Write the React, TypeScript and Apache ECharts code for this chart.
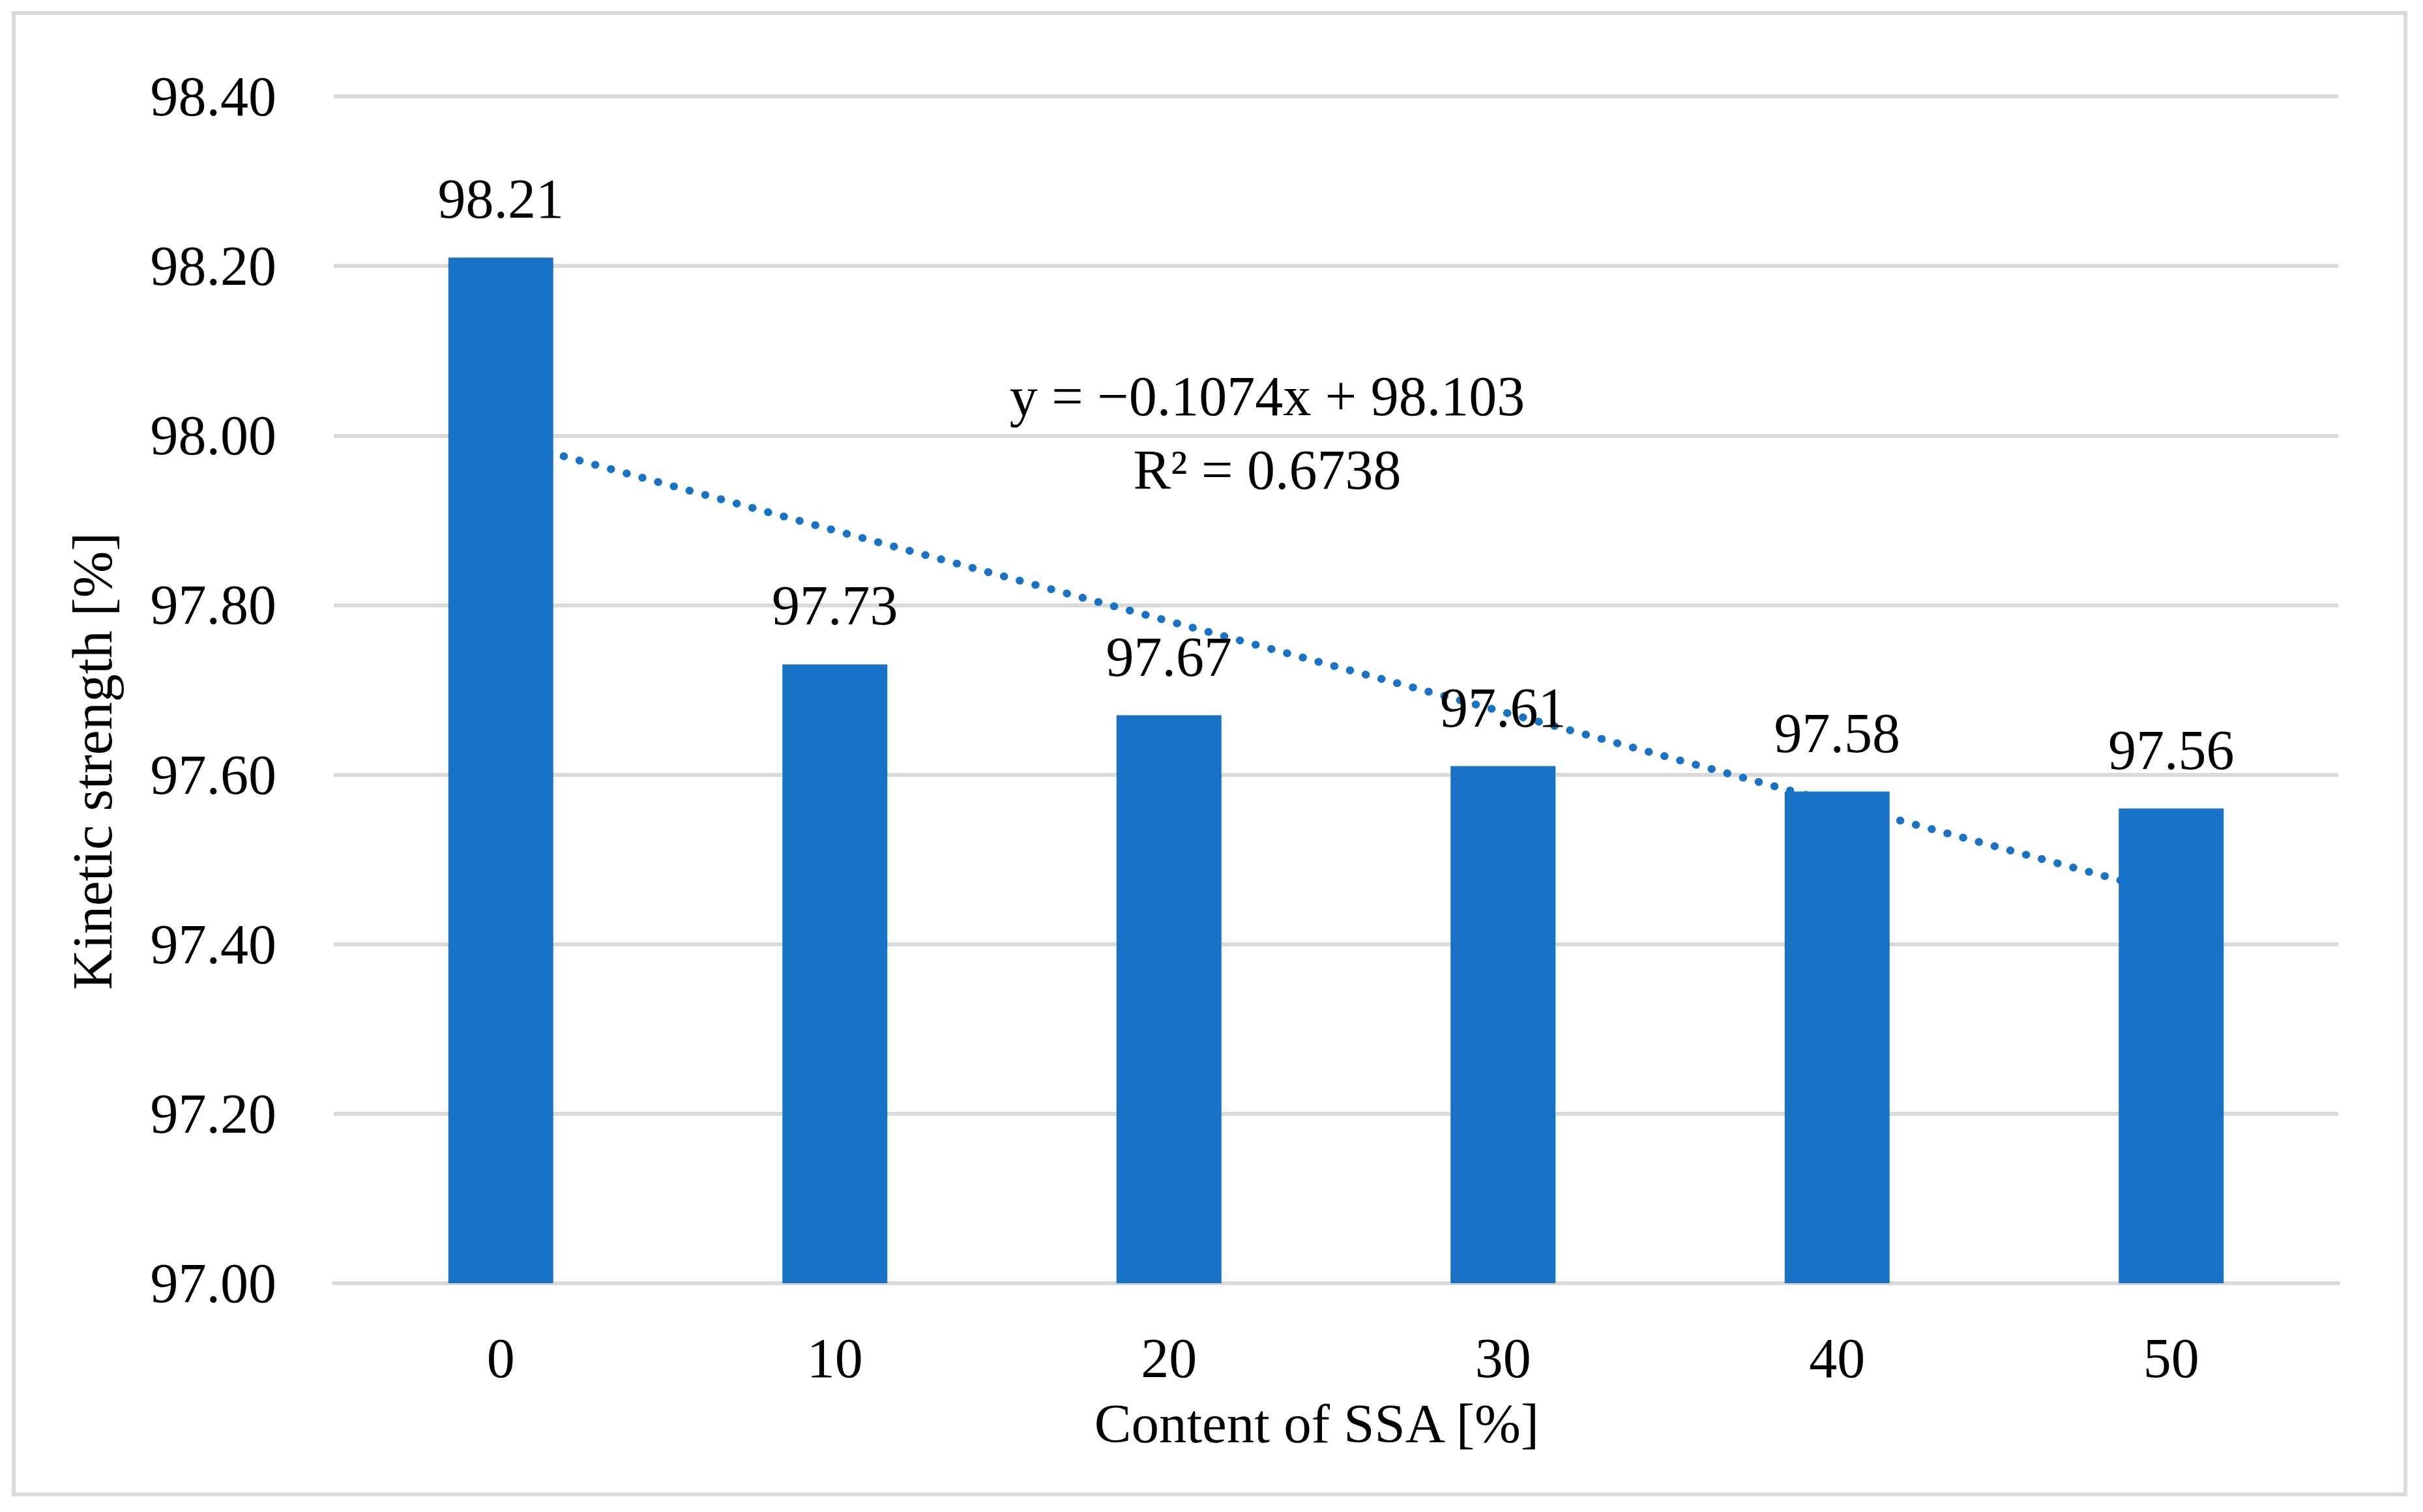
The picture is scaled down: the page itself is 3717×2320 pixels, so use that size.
import React, { useEffect, useRef } from "react";
import * as echarts from "echarts";

const categories = ["0", "10", "20", "30", "40", "50"];
const strengthValues = [98.21, 97.73, 97.67, 97.61, 97.58, 97.56];
const trendValues = [97.996, 97.888, 97.781, 97.674, 97.566, 97.459];
const yTicks = { min: 97, max: 98.4, interval: 0.2 };
const equationText = "y = −0.1074x + 98.103";
const r2Text = "R² = 0.6738";
const xTitle = "Content of SSA [%]";
const yTitle = "Kinetic strength [%]";

const FONT = "'Liberation Serif', 'Times New Roman', serif";
const BLUE = "#1873C7";
const GRID = "#D9D9D9";

export default function App() {
  const ref = useRef<HTMLDivElement>(null);
  useEffect(() => {
    if (!ref.current) return;
    const chart = echarts.init(ref.current, undefined, { renderer: "svg" });
    const fs = 86;
    const textStyle = (text: string, size: number = fs) => ({
      text,
      font: `${size}px ${FONT}`,
      fill: "#000",
      lineHeight: 76,
      align: "center",
      verticalAlign: "middle",
      textAlign: "center",
      textVerticalAlign: "middle",
    });
    chart.setOption({
      animation: false,
      backgroundColor: "#ffffff",
      grid: { left: 512, right: 130, top: 148, bottom: 351 },
      xAxis: {
        type: "category",
        data: categories,
        boundaryGap: true,
        axisLine: { show: true, lineStyle: { color: GRID, width: 6 } },
        axisTick: { show: false },
        axisLabel: {
          color: "#000",
          fontFamily: FONT,
          fontSize: fs,
          lineHeight: 76,
          margin: 77,
        },
        splitLine: { show: false },
      },
      yAxis: {
        type: "value",
        min: yTicks.min,
        max: yTicks.max,
        interval: yTicks.interval,
        axisLine: { show: false },
        axisTick: { show: false },
        axisLabel: {
          color: "#000",
          fontFamily: FONT,
          fontSize: fs,
          margin: 88,
          formatter: (v: number) => v.toFixed(2),
        },
        splitLine: { show: true, lineStyle: { color: GRID, width: 6 } },
      },
      series: [
        {
          type: "line",
          data: trendValues,
          z: 1,
          showSymbol: false,
          symbol: "none",
          silent: true,
          lineStyle: { color: BLUE, width: 12, type: [0.5, 24.5], cap: "round" },
        },
        {
          type: "bar",
          data: strengthValues,
          z: 2,
          barWidth: 161,
          itemStyle: { color: BLUE },
          label: {
            show: true,
            position: "top",
            distance: 47,
            color: "#000",
            fontFamily: FONT,
            fontSize: fs,
            formatter: (p: any) => Number(p.value).toFixed(2),
          },
        },
      ],
      graphic: [
        {
          type: "rect",
          silent: true,
          z: -10,
          shape: { x: 21, y: 20, width: 3669, height: 2273 },
          style: { fill: "none", stroke: GRID, lineWidth: 6 },
        },
        { type: "text", x: 1944, y: 608, z: 10, style: textStyle(equationText) },
        { type: "text", x: 1944, y: 721, z: 10, style: textStyle(r2Text) },
        { type: "text", x: 2020, y: 2184, z: 10, style: textStyle(xTitle, 85) },
        {
          type: "text",
          x: 142,
          y: 1168,
          rotation: Math.PI / 2,
          z: 10,
          style: textStyle(yTitle),
        },
      ],
    });
    return () => chart.dispose();
  }, []);
  return (
    <div
      ref={ref}
      style={{ position: "absolute", left: 0, top: 0, width: 3717, height: 2320 }}
    />
  );
}
